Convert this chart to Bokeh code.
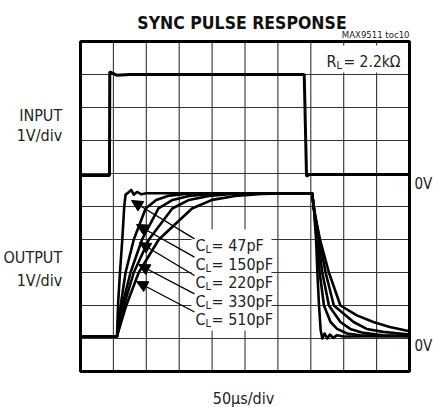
from bokeh.plotting import figure
from bokeh.models import Label, Arrow, NormalHead
from bokeh.embed import file_html
from bokeh.resources import INLINE

# ---- data (screen divisions: x 0..10, y 0..10 from bottom) ----
input_x = [0, 0.88, 0.89, 0.95, 1.1, 1.5, 6.8, 6.87, 6.95, 10]
input_y = [5.94, 5.94, 9.08, 9.05, 8.98, 9.0, 9.0, 5.92, 5.97, 5.97]

c47_x = [0, 1.11, 1.14, 1.2, 1.27, 1.33, 1.37, 1.45, 1.54, 1.62, 1.72, 1.85, 2.0,
         7.04, 7.1, 7.16, 7.2, 7.25, 7.3, 7.35, 7.42, 7.5, 7.58, 7.68, 7.8, 8.0, 10]
c47_y = [1.07, 1.07, 2.0, 3.0, 4.0, 5.0, 5.36, 5.42, 5.5, 5.36, 5.44, 5.37, 5.4,
         5.4, 4.9, 4.0, 3.0, 2.0, 1.25, 1.0, 1.15, 1.0, 1.12, 1.02, 1.1, 1.06, 1.07]

c150_x = [0, 1.11, 1.22, 1.37, 1.62, 1.98, 2.3, 2.7, 3.2, 4.0,
          7.04, 7.1, 7.18, 7.27, 7.4, 7.6, 7.8, 8.1, 8.5, 9.0, 10]
c150_y = [1.07, 1.07, 2.0, 3.0, 4.0, 4.94, 5.2, 5.33, 5.38, 5.4,
          5.4, 4.9, 4.0, 3.0, 2.0, 1.5, 1.29, 1.15, 1.1, 1.08, 1.07]

c220_x = [0, 1.11, 1.27, 1.52, 1.87, 2.37, 2.8, 3.3, 4.0, 5.0,
          7.04, 7.1, 7.22, 7.35, 7.55, 7.9, 8.2, 8.6, 9.2, 10]
c220_y = [1.07, 1.07, 2.0, 3.0, 4.0, 4.94, 5.2, 5.32, 5.38, 5.4,
          5.4, 4.9, 4.0, 3.0, 2.0, 1.5, 1.29, 1.17, 1.1, 1.08]

c330_x = [0, 1.11, 1.32, 1.62, 2.08, 2.79, 3.3, 3.9, 4.6, 5.5,
          7.04, 7.1, 7.26, 7.45, 7.7, 8.3, 8.7, 9.2, 10]
c330_y = [1.07, 1.07, 2.0, 3.0, 4.0, 4.94, 5.2, 5.32, 5.38, 5.4,
          5.4, 4.9, 4.0, 3.0, 2.0, 1.5, 1.29, 1.2, 1.12]

c510_x = [0, 1.11, 1.39, 1.77, 2.38, 3.39, 4.0, 4.7, 5.5, 6.5,
          7.04, 7.1, 7.28, 7.55, 7.9, 8.4, 8.9, 9.4, 10]
c510_y = [1.07, 1.07, 2.0, 3.0, 4.0, 4.94, 5.2, 5.32, 5.38, 5.4,
          5.4, 4.9, 4.0, 3.0, 2.0, 1.7, 1.5, 1.35, 1.22]

cap_labels = ["47pF", "150pF", "220pF", "330pF", "510pF"]
grid_ticks = [1, 2, 3, 4, 5, 6, 7, 8, 9]
n_div = 10

FONT = "DejaVu Sans Condensed"

# page-pixel helpers (graticule spans page x 80..409, y 41..371)
def dx(px):
    return (px - 80) / 32.9

def dy(py):
    return (371 - py) / 33.0

W, H = 433, 407
p = figure(width=W, height=H, x_range=(dx(0), dx(W)), y_range=(dy(H), dy(0)),
           output_backend="svg", toolbar_location=None, min_border=0)
p.xaxis.visible = False
p.yaxis.visible = False
p.grid.visible = False
p.outline_line_color = None
p.background_fill_color = "white"
p.border_fill_color = "white"

# graticule
p.segment(x0=grid_ticks, y0=[0] * len(grid_ticks), x1=grid_ticks, y1=[n_div] * len(grid_ticks),
          line_color="#333333", line_width=1.1)
p.segment(x0=[0] * len(grid_ticks), y0=grid_ticks, x1=[n_div] * len(grid_ticks), y1=grid_ticks,
          line_color="#333333", line_width=1.1)

# white label backgrounds
p.quad(left=[dx(191), dx(322)], right=[dx(271), dx(405)],
       top=[dy(229), dy(45)], bottom=[dy(330), dy(72)],
       fill_color="white", line_color=None)

# outer frame
p.quad(left=[0], right=[n_div], bottom=[0], top=[n_div],
       fill_color=None, line_color="black", line_width=3)

p.line(input_x, input_y, line_color="black", line_width=3)
for xs, ys in [(c510_x, c510_y), (c330_x, c330_y), (c220_x, c220_y),
               (c150_x, c150_y), (c47_x, c47_y)]:
    p.line(xs, ys, line_color="black", line_width=2.6, line_join="round")

# leader arrows
tips = [(131, 200), (136, 224), (139, 242), (138, 264), (136, 281)]
starts = [(194, 238.3), (194, 256.7), (194, 275), (194, 293.3), (194, 311.5)]
for (sx, sy), (tx, ty) in zip(starts, tips):
    p.add_layout(Arrow(end=NormalHead(size=11, fill_color="black", line_color="black", line_width=1),
                       x_start=dx(sx), y_start=dy(sy), x_end=dx(tx), y_end=dy(ty),
                       line_color="black", line_width=1.4))

def lab(text, px, py, size, align="left", style="normal", color="#222222"):
    p.add_layout(Label(x=dx(px), y=dy(py), text=text, text_align=align,
                       text_baseline="alphabetic", text_font_size=f"{size}px",
                       text_font=FONT, text_font_style=style, text_color=color))

# C_L labels
baselines = [245, 263.6, 282.2, 300.8, 319.4]
for t, b in zip(cap_labels, baselines):
    lab("C", 195, b, 16)
    lab("L", 205, b + 4, 11)
    lab("= " + t, 211, b, 16)

# R_L label
lab("R", 326, 61, 16)
lab("L", 336, 65, 11)
lab("= 2.2k\u03a9", 343, 61, 15.5)

# title and tags
lab("SYNC PULSE RESPONSE", 241.5, 22, 17.5, align="center", style="bold", color="#111111")
lab("MAX9511 toc10", 409, 33.5, 9.5, align="right")

lab("INPUT", 61.7, 115, 16, align="right")
lab("1V/div", 61.7, 134.5, 16, align="right")
lab("OUTPUT", 61.7, 257, 16, align="right")
lab("1V/div", 61.7, 280, 16, align="right")
lab("0V", 414, 183, 15)
lab("0V", 414, 345, 15)
lab("50\u03bcs/div", 243, 398, 16, align="center")

open("out.html", "w").write(file_html(p, INLINE))
